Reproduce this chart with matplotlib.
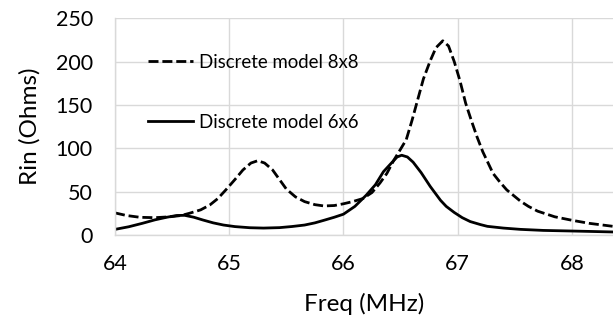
import matplotlib
matplotlib.use("Agg")
import matplotlib.pyplot as plt

# Rin vs frequency
freq_8x8 = [64.0, 64.1, 64.22, 64.35, 64.48, 64.58, 64.65, 64.75, 64.83, 64.9,
            64.97, 65.05, 65.12, 65.19, 65.25, 65.31, 65.38, 65.44, 65.5, 65.58,
            65.66, 65.75, 65.83, 65.92, 66.0, 66.08, 66.17, 66.25, 66.32, 66.38,
            66.44, 66.5, 66.55, 66.6, 66.65, 66.7, 66.76, 66.81, 66.87, 66.92,
            66.97, 67.02, 67.07, 67.12, 67.17, 67.22, 67.31, 67.37, 67.43, 67.55,
            67.62, 67.7, 67.85, 68.0, 68.15, 68.36]
rin_8x8 = [25.5, 22.5, 20.4, 20.0, 21, 22.5, 25, 29, 34.6, 42,
           52, 64, 75, 83, 85.7, 83, 75, 64, 53, 44,
           38.5, 35, 33.5, 34, 36, 38.5, 42, 49, 60, 71,
           86, 99, 110, 132, 156, 180, 201, 216, 224, 218,
           200, 178, 152, 132, 113, 96, 71, 61, 52, 39,
           33, 27.5, 21, 17, 13.5, 10]

freq_6x6 = [64.0, 64.12, 64.24, 64.35, 64.45, 64.54, 64.61, 64.69, 64.77, 64.86,
            64.95, 65.05, 65.18, 65.3, 65.44, 65.55, 65.66, 65.75, 65.83, 65.92,
            66.0, 66.1, 66.2, 66.28, 66.35, 66.42, 66.47, 66.51, 66.56, 66.61,
            66.68, 66.76, 66.85, 66.9, 66.97, 67.04, 67.11, 67.2, 67.26, 67.4,
            67.55, 67.75, 68.0, 68.2, 68.36]
rin_6x6 = [6.5, 9.5, 13.5, 17.5, 20.4, 22.5, 22.7, 20.5, 17.3, 14,
           11.5, 9.7, 8.4, 8.0, 8.5, 9.8, 11.5, 14, 17, 20.5,
           24, 33, 46, 58, 73, 83, 90, 92, 90, 84,
           72, 56, 40, 33, 26, 20, 15.5, 12, 10, 8,
           6.5, 5.3, 4.6, 4, 3.5]

x_ticks = [64, 65, 66, 67, 68]
y_ticks = [0, 50, 100, 150, 200, 250]

plt.rcParams['font.family'] = ['Lato', 'DejaVu Sans']

fig = plt.figure(figsize=(6.13, 3.2), dpi=100)
ax = fig.add_axes([0.1876, 0.2656, 0.8124, 0.6774])

ax.plot(freq_8x8, rin_8x8, color='black', lw=2, ls=(0, (3.6, 1.4)),
        label='Discrete model 8x8')
ax.plot(freq_6x6, rin_6x6, color='black', lw=2, label='Discrete model 6x6')

ax.set_xlim(64, 68.36)
ax.set_ylim(0, 250)
ax.set_xticks(x_ticks)
ax.set_yticks(y_ticks)
ax.tick_params(length=0, labelsize=15.5, colors='black')
ax.tick_params(axis='x', pad=14)
ax.tick_params(axis='y', pad=16)
ax.grid(True, color='#d9d9d9', lw=1)
ax.set_axisbelow(True)
for s in ['top', 'right']:
    ax.spines[s].set_visible(False)
for s in ['left', 'bottom']:
    ax.spines[s].set_color('#d9d9d9')
    ax.spines[s].set_linewidth(1)

ax.set_xlabel('Freq (MHz)', fontsize=17.5, labelpad=13)
ax.set_ylabel('Rin (Ohms)', fontsize=17.5, labelpad=11)

ax.legend(loc='upper left', bbox_to_anchor=(148 / 613, 1 - 54 / 320),
          bbox_transform=fig.transFigure, frameon=False, fontsize=13.4,
          handlelength=2.4, handletextpad=0.35, labelspacing=2.3,
          borderpad=0, borderaxespad=0)

fig.savefig('out.png', dpi=100)
